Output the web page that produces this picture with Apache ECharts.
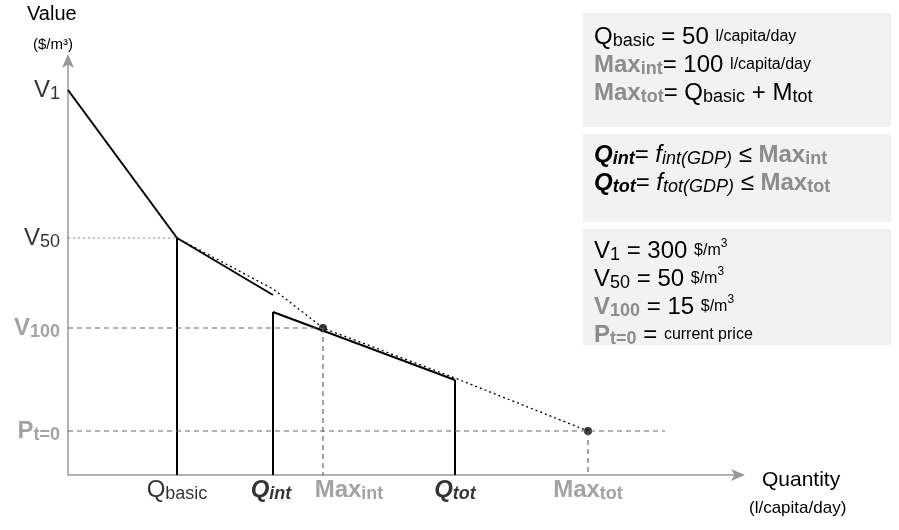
<!DOCTYPE html>
<html><head><meta charset="utf-8">
<script src="https://cdn.jsdelivr.net/npm/echarts@6/dist/echarts.min.js"></script>
<style>html,body{margin:0;background:#fff}#main{width:899px;height:530px}</style>
</head><body><div id="main"></div>
<script>
// schematic units: x = quantity, y = value (arbitrary scale)
var demandLine = [[0, 385], [109, 237]];
var intLine = [[109, 237], [205, 180]];
var totLine = [[205, 163], [387, 95]];
var trendDots = [[109, 237], [205, 186], [255, 147], [387, 97], [520, 44]];
var qBasicX = 109, qIntX = 205, maxIntX = 255, qTotX = 387, maxTotX = 520;
var v50Y = 237, v100Y = 147, p0Y = 44;
var xLabels = [
    [qBasicX, '{n|Q}{sub|basic}', 0],
    [qIntX, '{bi|Q}{bis|int}', -2],
    [maxIntX, '{g|Max}{gs|int}', 26],
    [qTotX, '{bi|Q}{bis|tot}', 0],
    [maxTotX, '{g|Max}{gs|tot}', 0]
];
var yLabels = [
    [385, '{n|V}{sub|1}'],
    [v50Y, '{n|V}{sub|50}'],
    [v100Y, '{g|V}{gs|100}'],
    [p0Y, '{g|P}{gs|t=0}']
];

function st(o) { o.fill = o.color; return o; }
var rich = {
    n: st({fontSize: 24, lineHeight: 26, color: '#000'}),
    sub: st({fontSize: 18, lineHeight: 10, verticalAlign: 'bottom', color: '#000'}),
    bi: st({fontSize: 24, lineHeight: 26, fontWeight: 'bold', fontStyle: 'italic', color: '#000'}),
    bis: st({fontSize: 18, lineHeight: 10, verticalAlign: 'bottom', fontWeight: 'bold', fontStyle: 'italic', color: '#000'}),
    g: st({fontSize: 24, lineHeight: 26, fontWeight: 'bold', color: '#8c8c8c'}),
    gs: st({fontSize: 18, lineHeight: 10, verticalAlign: 'bottom', fontWeight: 'bold', color: '#8c8c8c'}),
    s: st({fontSize: 16, lineHeight: 26, color: '#000'}),
    i: st({fontSize: 24, lineHeight: 26, fontStyle: 'italic', color: '#000'}),
    is: st({fontSize: 18, lineHeight: 10, verticalAlign: 'bottom', fontStyle: 'italic', color: '#000'}),
    sup: st({fontSize: 12, lineHeight: 10, verticalAlign: 'top', color: '#000'})
};

function seg(data, style) {
    return {type: 'line', data: data, symbol: 'none', silent: true, lineStyle: style};
}
var black = {color: '#000', width: 2};
var dash = {color: '#666', width: 1.2, type: [5, 4]};

var series = [
    seg(demandLine, black), seg(intLine, black), seg(totLine, black),
    seg(trendDots, {color: '#000', width: 1.3, type: [2, 3]}),
    seg([[qBasicX, v50Y], [qBasicX, 0]], black),
    seg([[qIntX, 163], [qIntX, 0]], black),
    seg([[qTotX, 95], [qTotX, 0]], black),
    seg([[0, v50Y], [qBasicX, v50Y]], {color: '#888', width: 1.2, type: [2, 3]}),
    seg([[0, v100Y], [maxIntX, v100Y]], dash),
    seg([[maxIntX, v100Y], [maxIntX, 0]], dash),
    seg([[0, p0Y], [597, p0Y]], dash),
    seg([[maxTotX, p0Y], [maxTotX, 0]], dash),
    {type: 'scatter', data: [[maxIntX, v100Y], [maxTotX, p0Y]], symbolSize: 8,
        itemStyle: {color: '#000'}, silent: true},
    {type: 'scatter', symbolSize: 0, silent: true,
        data: xLabels.map(function (d) {
            return {value: [d[0], 0], name: d[1], label: {offset: [d[2], 0]}};
        }),
        label: {show: true, position: 'bottom', distance: 2, color: '#000',
            fontFamily: 'Liberation Sans', formatter: function (p) { return p.name; }, rich: rich}},
    {type: 'scatter', symbolSize: 0, silent: true,
        data: yLabels.map(function (d) { return {value: [0, d[0]], name: d[1]}; }),
        label: {show: true, position: 'left', distance: 8, color: '#000',
            fontFamily: 'Liberation Sans', formatter: function (p) { return p.name; }, rich: rich}}
];

function box(y, h) {
    return {type: 'rect', shape: {x: 583, y: y, width: 308, height: h}, style: {fill: '#f2f2f2'}};
}
function txt(x, y, t) {
    return {type: 'text', x: x, y: y, style: {text: t, rich: rich, fontFamily: 'Liberation Sans',
        fontSize: 24, fill: '#000'}};
}

var option = {
    animation: false,
    textStyle: {fontFamily: 'Liberation Sans'},
    grid: {left: 68, right: 164, top: 62, bottom: 55},
    xAxis: {type: 'value', min: 0, max: 667, splitLine: {show: false}, axisTick: {show: false},
        axisLabel: {show: false},
        axisLine: {lineStyle: {color: '#999', width: 1.5}, symbol: ['none', 'arrow'], symbolSize: [9, 14], symbolOffset: [0, 10]}},
    yAxis: {type: 'value', min: 0, max: 413, splitLine: {show: false}, axisTick: {show: false},
        axisLabel: {show: false},
        axisLine: {lineStyle: {color: '#999', width: 1.5}, symbol: ['none', 'arrow'], symbolSize: [9, 14], symbolOffset: [0, 8]}},
    series: series,
    graphic: [
        box(13, 114), box(134, 88), box(229, 116),
        txt(594, 24, '{n|Q}{sub|basic}{n| = 50 }{s|l/capita/day}'),
        txt(594, 52, '{g|Max}{gs|int}{n|= 100 }{s|l/capita/day}'),
        txt(594, 80, '{g|Max}{gs|tot}{n|= Q}{sub|basic}{n| + M}{sub|tot}'),
        txt(594, 142, '{bi|Q}{bis|int}{n|= }{i|f}{is|int(GDP)}{n| ≤ }{g|Max}{gs|int}'),
        txt(594, 170, '{bi|Q}{bis|tot}{n|= }{i|f}{is|tot(GDP)}{n| ≤ }{g|Max}{gs|tot}'),
        txt(594, 238, '{n|V}{sub|1}{n| = 300 }{s|$/m}{sup|3}'),
        txt(594, 266, '{n|V}{sub|50}{n| = 50 }{s|$/m}{sup|3}'),
        txt(594, 294, '{g|V}{gs|100}{n| = 15 }{s|$/m}{sup|3}'),
        txt(594, 322, '{g|P}{gs|t=0}{n| = }{s|current price}'),
        {type: 'text', x: 27, y: 4, style: {text: 'Value', fontSize: 20, fill: '#000', fontFamily: 'Liberation Sans'}},
        {type: 'text', x: 33, y: 37, style: {text: '($/m³)', fontSize: 15, fill: '#000', fontFamily: 'Liberation Sans'}},
        {type: 'text', x: 762, y: 470, style: {text: 'Quantity', fontSize: 21, fill: '#000', fontFamily: 'Liberation Sans'}},
        {type: 'text', x: 749, y: 500, style: {text: '(l/capita/day)', fontSize: 17, fill: '#000', fontFamily: 'Liberation Sans'}}
    ]
};
echarts.init(document.getElementById('main')).setOption(option);
</script></body></html>
